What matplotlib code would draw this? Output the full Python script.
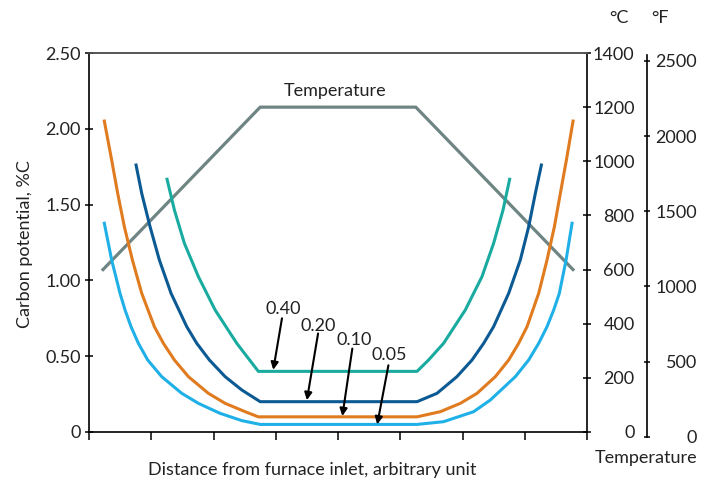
import matplotlib
matplotlib.use("Agg")
import matplotlib.pyplot as plt

plt.rcParams['font.family'] = ['Lato', 'DejaVu Sans']

# Positions along furnace (arbitrary units, 0..8 ticks)
x_temp = [0.225, 2.75, 5.25, 7.775]
temp_c = [600, 1200, 1200, 600]

x_005 = [0.246, 0.364, 0.498, 0.579, 0.675, 0.793, 0.943, 1.168, 1.49, 1.757, 2.106, 2.455, 2.75,
         5.27, 5.696, 6.179, 6.447, 6.849, 7.063, 7.224, 7.358, 7.465, 7.556, 7.664, 7.76]
c_005 = [1.377, 1.135, 0.915, 0.805, 0.695, 0.585, 0.475, 0.365, 0.255, 0.189, 0.123, 0.075, 0.05,
         0.05, 0.068, 0.134, 0.211, 0.365, 0.475, 0.585, 0.695, 0.805, 0.915, 1.135, 1.377]

x_010 = [0.246, 0.364, 0.461, 0.568, 0.697, 0.847, 1.05, 1.195, 1.372, 1.597, 1.918, 2.187, 2.508, 2.72,
         5.27, 5.643, 5.965, 6.233, 6.527, 6.742, 6.902, 7.037, 7.224, 7.358, 7.476, 7.572, 7.669, 7.776]
c_010 = [2.051, 1.794, 1.574, 1.354, 1.135, 0.915, 0.695, 0.585, 0.475, 0.365, 0.255, 0.189, 0.134, 0.10,
         0.10, 0.134, 0.189, 0.255, 0.365, 0.475, 0.585, 0.695, 0.915, 1.135, 1.354, 1.574, 1.794, 2.051]

x_020 = [0.756, 0.847, 0.981, 1.13, 1.318, 1.57, 1.731, 1.934, 2.187, 2.455, 2.75,
         5.27, 5.59, 5.91, 6.153, 6.34, 6.50, 6.742, 6.929, 7.063, 7.17, 7.267]
c_020 = [1.761, 1.574, 1.354, 1.135, 0.915, 0.695, 0.585, 0.475, 0.365, 0.277, 0.20,
         0.20, 0.255, 0.365, 0.475, 0.585, 0.695, 0.915, 1.135, 1.354, 1.574, 1.761]

x_040 = [1.254, 1.372, 1.532, 1.757, 2.026, 2.374, 2.72,
         5.27, 5.455, 5.696, 6.045, 6.313, 6.50, 6.651, 6.757]
c_040 = [1.667, 1.464, 1.245, 1.025, 0.805, 0.585, 0.40,
         0.40, 0.475, 0.585, 0.805, 1.025, 1.245, 1.464, 1.667]

left_ticks = [0, 0.5, 1.0, 1.5, 2.0, 2.5]
left_labels = ['0', '0.50', '1.00', '1.50', '2.00', '2.50']
c_ticks = [0, 200, 400, 600, 800, 1000, 1200, 1400]
f_ticks = [0, 500, 1000, 1500, 2000, 2500]

ann_labels = ['0.40', '0.20', '0.10', '0.05']
ann_text = [(3.12, 0.81), (3.68, 0.70), (4.26, 0.61), (4.82, 0.51)]
ann_start = [(3.10, 0.75), (3.68, 0.65), (4.23, 0.55), (4.81, 0.44)]
ann_tip = [(2.96, 0.41), (3.50, 0.21), (4.07, 0.105), (4.63, 0.05)]

W, H = 713, 483
fig = plt.figure(figsize=(W / 100, H / 100), dpi=100)
L, R, B, T = 89, 587, 432, 53
ax = fig.add_axes([L / W, 1 - B / H, (R - L) / W, (B - T) / H])
ax.patch.set_visible(False)

fs = 13
txt = '#222222'
col_tmp = '#6e8583'
lw = 2.2

ax2 = ax.twinx()
ax2.set_zorder(0)
ax.set_zorder(1)

ax.plot(x_005, c_005, color='#1fb0e8', lw=lw)
ax.plot(x_010, c_010, color='#e07b1f', lw=lw)
ax.plot(x_020, c_020, color='#0b5a93', lw=lw)
ax.plot(x_040, c_040, color='#19aba0', lw=lw)
ax2.plot(x_temp, temp_c, color=col_tmp, lw=2.3)

ax.set_xlim(0, 8)
ax.set_ylim(0, 2.5)
ax2.set_ylim(0, 1400)
ax.set_xticks(range(9))
ax.set_xticklabels([])
ax.set_yticks(left_ticks)
ax.set_yticklabels(left_labels, fontsize=fs, color=txt)
ax.tick_params(axis='x', direction='out', length=5.5, width=1.1)
ax.tick_params(axis='y', direction='inout', length=6, width=1.1, pad=3)

ax2.set_yticks(c_ticks)
ax2.set_yticklabels([str(v) for v in c_ticks], fontsize=fs, color=txt)
ax2.tick_params(axis='y', direction='inout', length=5.5, width=1.1, pad=31.5)
for lb in ax2.get_yticklabels():
    lb.set_ha('right')

for a in (ax, ax2):
    for s in a.spines.values():
        s.set_linewidth(1.2)
    a.spines['top'].set_color('#555555')
ax2.spines['left'].set_visible(False)
ax2.spines['bottom'].set_visible(False)
ax.spines['right'].set_visible(False)

# Fahrenheit axis
f_bot_px = B + 17.78 * (B - T) / 1400
f_top_px = 55
ax3 = fig.add_axes([0.5, 1 - f_bot_px / H, 647 / W - 0.5, (f_bot_px - f_top_px) / H])
ax3.patch.set_visible(False)
ax3.set_xticks([])
for s in ('left', 'top', 'bottom'):
    ax3.spines[s].set_visible(False)
ax3.spines['right'].set_linewidth(1.2)
ax3.set_ylim(0, 1392.6 * 9 / 5 + 32)
ax3.yaxis.tick_right()
ax3.set_yticks(f_ticks)
ax3.set_yticklabels([str(v) for v in f_ticks], fontsize=fs, color=txt)
ax3.tick_params(axis='y', direction='inout', length=4, width=1.1, pad=34)
for lb in ax3.get_yticklabels():
    lb.set_ha('right')

# annotations
for lab, tp, st, tip in zip(ann_labels, ann_text, ann_start, ann_tip):
    ax.text(tp[0], tp[1], lab, fontsize=fs, ha='center', va='center', color=txt)
    ax.annotate('', xy=tip, xytext=st,
                arrowprops=dict(arrowstyle='-|>', color='black', lw=1.5,
                                mutation_scale=11, shrinkA=0, shrinkB=0))

ax.text(3.95, 2.25, 'Temperature', fontsize=fs, ha='center', va='center', color=txt)

fig.text(312 / W, 1 - 470 / H, 'Distance from furnace inlet, arbitrary unit', fontsize=fs,
         ha='center', va='center', color=txt)
fig.text(25 / W, 1 - 244 / H, 'Carbon potential, %C', fontsize=fs, rotation=90,
         ha='center', va='center', color=txt)
fig.text(619 / W, 1 - 18 / H, '°C', fontsize=fs, ha='center', va='center', color=txt)
fig.text(660 / W, 1 - 18 / H, '°F', fontsize=fs, ha='center', va='center', color=txt)
fig.text(646 / W, 1 - 458 / H, 'Temperature', fontsize=fs, ha='center', va='center', color=txt)

fig.savefig('out.png', dpi=100)
